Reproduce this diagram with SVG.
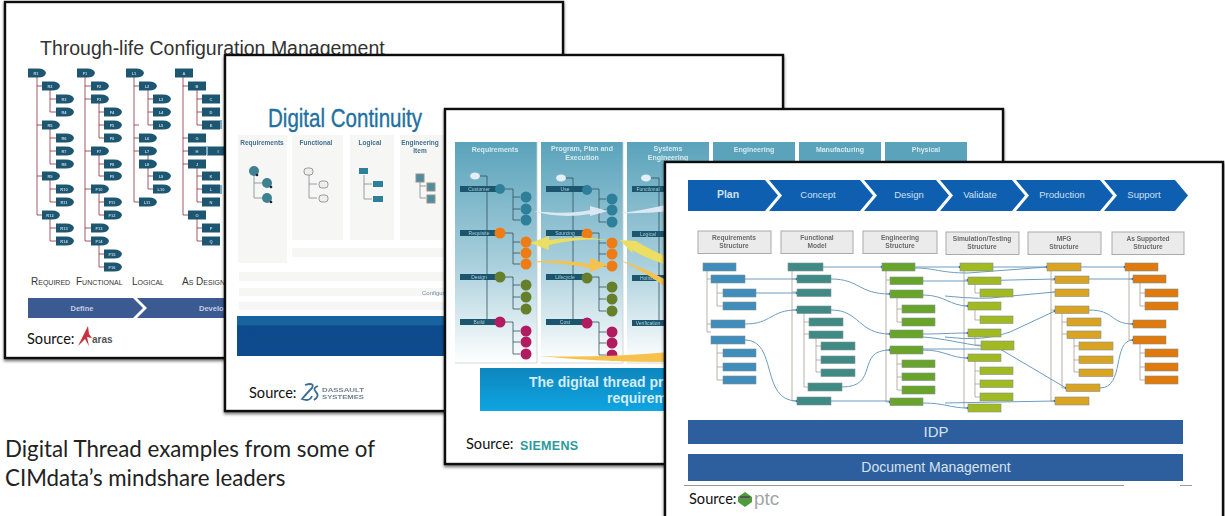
<svg xmlns="http://www.w3.org/2000/svg" xmlns:xlink="http://www.w3.org/1999/xlink" width="1225" height="516" viewBox="0 0 1225 516">
<style>
text{font-family:"Liberation Sans",Arial,sans-serif}
.card{fill:#fff;stroke:#111;stroke-width:2.4}
.src{font-family:Lato,"Open Sans",sans-serif;font-size:14.6px;fill:#111}
.cap{font-family:Lato,"Open Sans",sans-serif;font-size:22.300px;fill:#222}
.n1{fill:#1f5670}
.t1{font-size:4px;font-weight:bold;fill:#b9d2de;text-anchor:middle}
.tr{fill:none;stroke:#8a2f42;stroke-width:.8}
.sc{font-size:10px;font-variant:small-caps;fill:#333}
.bar{fill:#3c5a92}
.bt{font-size:7.5px;font-weight:bold;fill:#c3cfe2;text-anchor:middle}
.p2{fill:#f6f6f5}
.h2{font-size:6.5px;font-weight:bold;fill:#44708f;text-anchor:middle}
.tr2{fill:none;stroke:#7d8a8f;stroke-width:.8}
.hp{fill:#5aa3bb}
.ht{font-size:7px;font-weight:bold;fill:#d6eaf0;text-anchor:middle}
.tr3{fill:none;stroke:#33505e;stroke-width:.8}
.lb{fill:#1b566e}
.lt{font-size:5px;fill:#a9ccd8;text-anchor:middle}
.ct{fill:#2f7f99}.co{fill:#ee7c12}.cg{fill:#667f2c}.cm{fill:#b01d5f}
.chev{fill:#0e5fb0}
.cht{font-size:9.5px;fill:#cfe0f0;text-anchor:middle}
.sb{fill:#ebebeb;stroke:#a9a9a9;stroke-width:1}
.st{font-size:6.6px;font-weight:bold;fill:#6a6a6a;text-anchor:middle}
.a{fill:#3f8cba}.b{fill:#3f8a86}.c{fill:#69a42a}.d{fill:#a2ba22}.e{fill:#dba321}.f{fill:#e07a0a}
.a,.b,.c,.d,.e,.f{stroke:#7f8f8f;stroke-width:.6}
.tr4{fill:none;stroke:#9b9486;stroke-width:.7}
.fl{fill:none;stroke:#6d9cbf;stroke-width:1}
.big{fill:#2d5f9e}
.bigt{fill:#d5e2f0;text-anchor:middle}
</style>
<defs>
<filter id="soft" x="-5%" y="-5%" width="110%" height="110%"><feGaussianBlur stdDeviation="0.45"/></filter>
<filter id="shadow" x="-3%" y="-3%" width="106%" height="106%"><feDropShadow dx="0" dy="2" stdDeviation="1.6" flood-color="#000" flood-opacity=".55"/></filter>
<path id="dn" d="M0-4.5H10Q17-4.500 18 0Q17 4.500 10 4.500H0Z"/>
<rect id="rn" x="0" y="-4.500" width="18" height="9"/>
<circle id="dot" r="1.300" fill="#1f66b5"/>
<linearGradient id="pg" x1="0" y1="0" x2="0" y2="1"><stop offset="0" stop-color="#5aa3bb"/><stop offset=".55" stop-color="#a9cfdc"/><stop offset="1" stop-color="#fff"/></linearGradient>
<linearGradient id="bg3" x1="0" y1="0" x2="0" y2="1"><stop offset="0" stop-color="#0e86bd"/><stop offset="1" stop-color="#0ea5e2"/></linearGradient>
<linearGradient id="bg2" x1="0" y1="0" x2="0" y2="1"><stop offset="0" stop-color="#15639f"/><stop offset=".22" stop-color="#15639f"/><stop offset=".25" stop-color="#0b4a8c"/><stop offset="1" stop-color="#0c4c8e"/></linearGradient>
</defs>

<g id="card-aras">
<rect class="card" x="5" y="2" width="558" height="356" filter="url(#shadow)"/>
<text x="40" y="55" font-size="19.500" fill="#333">Through-life Configuration Management</text>
<g id="aras-tree" filter="url(#soft)">
<path class="tr" d="M37 77V215M37 86H42M37 125H42M37 176H42M37 215H42M50 90V112M50 99H56M50 112H56M50 129V164M50 138H56M50 151H56M50 164H56M50 180V202M50 189H56M50 202H56M50 219V241M50 228H56M50 241H56"/>
<path class="tr" d="M85 77V241M85 86H91M85 99H91M85 151H91M85 189H91M85 228H91M85 241H91M99 103V138M99 112H104M99 125H104M99 138H104M99 155V176M99 164H104M99 176H104M99 193V215M99 202H104M99 215H104M99 245V267M99 254H104M99 267H104"/>
<path class="tr" d="M134 77V202M134 86H139M134 125H139M134 138H139M134 151H139M134 202H139M148 90V125M148 99H153M148 112H153M148 125H153M148 155V189M148 176H153M148 189H153"/>
<path class="tr" d="M183 77V215M183 86H188M183 138H188M183 151H188M183 164H188M183 215H188M197 90V125M197 99H202M197 112H202M197 125H202M197 168V202M197 176H202M197 189H202M197 202H202M197 219V241M197 228H202M197 241H202"/>
<g class="n1">
<use href="#dn" x="28" y="73"/><use href="#dn" x="42" y="86"/><use href="#dn" x="56" y="99"/><use href="#dn" x="56" y="112"/><use href="#dn" x="42" y="125"/><use href="#dn" x="56" y="138"/><use href="#dn" x="56" y="151"/><use href="#dn" x="56" y="164"/><use href="#dn" x="42" y="176"/><use href="#dn" x="56" y="189"/><use href="#dn" x="56" y="202"/><use href="#dn" x="42" y="215"/><use href="#dn" x="56" y="228"/><use href="#dn" x="56" y="241"/>
<use href="#dn" x="77" y="73"/><use href="#dn" x="91" y="86"/><use href="#dn" x="91" y="99"/><use href="#dn" x="104" y="112"/><use href="#dn" x="104" y="125"/><use href="#dn" x="104" y="138"/><use href="#dn" x="91" y="151"/><use href="#dn" x="104" y="164"/><use href="#dn" x="104" y="176"/><use href="#dn" x="91" y="189"/><use href="#dn" x="104" y="202"/><use href="#dn" x="104" y="215"/><use href="#dn" x="91" y="228"/><use href="#dn" x="91" y="241"/><use href="#dn" x="104" y="254"/><use href="#dn" x="104" y="267"/>
<use href="#dn" x="126" y="73"/><use href="#dn" x="139" y="86"/><use href="#dn" x="153" y="99"/><use href="#dn" x="153" y="112"/><use href="#dn" x="153" y="125"/><use href="#dn" x="139" y="138"/><use href="#dn" x="139" y="151"/><use href="#dn" x="139" y="164"/><use href="#dn" x="153" y="176"/><use href="#dn" x="153" y="189"/><use href="#dn" x="139" y="202"/>
<use href="#rn" x="175" y="73"/><use href="#rn" x="188" y="86"/><use href="#rn" x="202" y="99"/><use href="#rn" x="202" y="112"/><use href="#rn" x="202" y="125"/><use href="#rn" x="188" y="138"/><use href="#rn" x="188" y="151"/><use href="#rn" x="207" y="151"/><use href="#rn" x="188" y="164"/><use href="#rn" x="202" y="176"/><use href="#rn" x="202" y="189"/><use href="#rn" x="202" y="202"/><use href="#rn" x="188" y="215"/><use href="#rn" x="202" y="228"/><use href="#rn" x="202" y="241"/>
</g>
<g class="t1">
<text x="36" y="74.500">R1</text><text x="50" y="87.500">R2</text><text x="64" y="100.500">R3</text><text x="64" y="113.500">R4</text><text x="50" y="126.500">R5</text><text x="64" y="139.500">R6</text><text x="64" y="152.500">R7</text><text x="64" y="165.500">R8</text><text x="50" y="177.500">R9</text><text x="64" y="190.500">R10</text><text x="64" y="203.500">R11</text><text x="50" y="216.500">R12</text><text x="64" y="229.500">R13</text><text x="64" y="242.500">R14</text>
<text x="85" y="74.500">F1</text><text x="99" y="87.500">F2</text><text x="99" y="100.500">F3</text><text x="112" y="113.500">F4</text><text x="112" y="126.500">F5</text><text x="112" y="139.500">F6</text><text x="99" y="152.500">F7</text><text x="112" y="165.500">F8</text><text x="112" y="177.500">F9</text><text x="99" y="190.500">F10</text><text x="112" y="203.500">F11</text><text x="112" y="216.500">F12</text><text x="99" y="229.500">F13</text><text x="99" y="242.500">F14</text><text x="112" y="255.500">F15</text><text x="112" y="268.500">F16</text>
<text x="134" y="74.500">L1</text><text x="147" y="87.500">L2</text><text x="161" y="100.500">L3</text><text x="161" y="113.500">L4</text><text x="161" y="126.500">L5</text><text x="147" y="139.500">L6</text><text x="147" y="152.500">L7</text><text x="147" y="165.500">L8</text><text x="161" y="177.500">L9</text><text x="161" y="190.500">L10</text><text x="147" y="203.500">L11</text>
<text x="184" y="74.500">A</text><text x="197" y="87.500">B</text><text x="211" y="100.500">C</text><text x="211" y="113.500">D</text><text x="211" y="126.500">E</text><text x="197" y="139.500">G</text><text x="197" y="152.500">H</text><text x="218" y="152.500">I</text><text x="197" y="165.500">J</text><text x="211" y="177.500">K</text><text x="211" y="190.500">L</text><text x="211" y="203.500">N</text><text x="197" y="216.500">O</text><text x="211" y="229.500">P</text><text x="211" y="242.500">Q</text>
</g>
<path fill="#7fb0c8" d="M220 120h2v9h-2zM220 185h2v9h-2zM206 146h2v9h-2z"/>
</g>
<text class="sc" x="31" y="285">Required</text>
<text class="sc" x="76" y="285">Functional</text>
<text class="sc" x="132" y="285">Logical</text>
<text class="sc" x="182" y="285">As Designed</text>
<polygon class="bar" points="28,298 133,298 143,308 133,318 28,318"/>
<polygon class="bar" points="137,298 300,298 300,318 137,318 147,308"/>
<text class="bt" x="82" y="311">Define</text>
<text class="bt" x="199" y="311" style="text-anchor:start">Develop</text>
<text class="src" x="27" y="344">Source:</text>
<path fill="#c8323c" d="M78 346L88 326L89 334L92 338L87 337L89 346L85 339Z"/>
<text x="92" y="343" font-size="10" font-weight="bold" fill="#555">aras</text>
</g>

<g id="card-dassault">
<rect class="card" x="225" y="55" width="558" height="356" filter="url(#shadow)"/>
<g id="dassault-panels" filter="url(#soft)">
<rect class="p2" x="238" y="135" width="49" height="128"/>
<rect class="p2" x="292" y="135" width="51" height="105"/>
<rect class="p2" x="350" y="135" width="44" height="105"/>
<rect class="p2" x="400" y="135" width="100" height="105"/>
<rect class="p2" x="292" y="248" width="300" height="9"/>
<rect class="p2" x="239" y="272" width="300" height="9"/>
<rect class="p2" x="239" y="288" width="300" height="8"/>
<rect class="p2" x="239" y="302" width="300" height="8"/>
<text class="h2" x="262" y="145">Requirements</text>
<text class="h2" x="316" y="145">Functional</text>
<text class="h2" x="370" y="145">Logical</text>
<text class="h2" x="420" y="145">Engineering</text>
<text class="h2" x="420" y="153">Item</text>
<text x="422" y="295" font-size="6" fill="#6f8da3">Configuration</text>
<path class="tr2" d="M254 175V198H262M254 183H262M309 175V198H317M309 184H317M364 175V199H372M364 184H372M420 180V198H426M420 186H426"/>
<g fill="#3f8191"><circle cx="254" cy="171" r="5"/><circle cx="267" cy="183" r="5"/><circle cx="267" cy="198" r="5"/></g>
<g fill="#223"><circle cx="257" cy="175" r="1.300"/><circle cx="271" cy="187" r="1.300"/><circle cx="271" cy="202" r="1.300"/></g>
<g fill="#eee" stroke="#777" stroke-width=".7"><rect x="304" y="168" width="9" height="7" rx="3"/><rect x="319" y="181" width="9" height="7" rx="3"/><rect x="319" y="195" width="9" height="7" rx="3"/></g>
<g fill="#2f7f9c"><rect x="359" y="168" width="9" height="6"/><rect x="373" y="181" width="10" height="6"/><rect x="373" y="196" width="10" height="6"/></g>
<g fill="#4d8ea0" stroke="#a08e80" stroke-width="1"><rect x="416" y="174" width="8" height="8"/><rect x="427" y="183" width="8" height="8"/><rect x="427" y="195" width="8" height="8"/></g>
<rect x="237" y="316" width="300" height="40" fill="url(#bg2)"/>
</g>
<text x="268" y="127" font-size="25" fill="#22709f" stroke="#22709f" stroke-width=".35" textLength="154" lengthAdjust="spacingAndGlyphs">Digital Continuity</text>
<text class="src" x="249" y="398">Source:</text>
<path fill="none" stroke="#3a6b95" stroke-width="1.800" d="M305 385Q315 382 312 388Q308 392 302 399Q310 402 312 396M318 386Q312 388 316 392Q320 396 314 400"/>
<g filter="url(#soft)" font-size="6" font-weight="bold" fill="#6f8190"><text x="322" y="392" textLength="42" lengthAdjust="spacingAndGlyphs">DASSAULT</text><text x="322" y="399" textLength="42" lengthAdjust="spacingAndGlyphs">SYSTEMES</text></g>
</g>

<g id="card-siemens">
<rect class="card" x="445" y="109" width="558" height="355" filter="url(#shadow)"/>
<g id="siemens-panels" filter="url(#soft)">
<rect x="455" y="142" width="82" height="221" fill="url(#pg)"/>
<rect x="541" y="142" width="82" height="221" fill="url(#pg)"/>
<rect x="627" y="142" width="82" height="221" fill="url(#pg)"/>
<rect class="hp" x="713" y="142" width="82" height="22"/>
<rect class="hp" x="799" y="142" width="82" height="22"/>
<rect class="hp" x="885" y="142" width="82" height="22"/>
<path d="M455 363H537V142M541 363H623V142M627 363H709" fill="none" stroke="#c9cfd2" stroke-width=".8"/>
<text class="ht" x="495" y="152">Requirements</text>
<text class="ht" x="582" y="151">Program, Plan and</text>
<text class="ht" x="582" y="160">Execution</text>
<text class="ht" x="668" y="151">Systems</text>
<text class="ht" x="668" y="160">Engineering</text>
<text class="ht" x="754" y="152">Engineering</text>
<text class="ht" x="840" y="152">Manufacturing</text>
<text class="ht" x="926" y="152">Physical</text>
<path class="tr3" d="M478 176H487V322M505 189H513V220H520M513 197H520M513 209H520M505 233H513V264H520M513 242H520M513 253H520M505 277H513V309H520M513 285H520M513 297H520M505 322H513V354H520M513 331H520M513 342H520"/>
<path class="tr3" d="M564 178H573V322M591 189H599V222H606M599 199H606M599 210H606M591 233H599V266H606M599 243H606M599 254H606M591 277H599V311H606M599 287H606M599 299H606M591 322H599V355H606M599 332H606M599 343H606"/>
<path class="tr3" d="M649 178H659V323"/>
<ellipse cx="475" cy="176" rx="5" ry="3.500" fill="#e4eef7"/><ellipse cx="561" cy="178" rx="5" ry="3.500" fill="#e4eef7"/><ellipse cx="646" cy="178" rx="5" ry="3.500" fill="#e4eef7"/>
<g class="lb"><rect x="460" y="186" width="42" height="6"/><rect x="460" y="230" width="42" height="6"/><rect x="460" y="274" width="42" height="6"/><rect x="460" y="319" width="42" height="6"/><rect x="546" y="186" width="42" height="6"/><rect x="546" y="230" width="42" height="6"/><rect x="546" y="274" width="42" height="6"/><rect x="546" y="319" width="42" height="6"/><rect x="632" y="186" width="33" height="6"/><rect x="632" y="231" width="33" height="6"/><rect x="632" y="275" width="33" height="6"/><rect x="632" y="320" width="33" height="6"/></g>
<text class="lt" x="479" y="191">Customer</text><text class="lt" x="479" y="235">Requisite</text><text class="lt" x="479" y="279">Design</text><text class="lt" x="479" y="324">Build</text>
<text class="lt" x="565" y="191">Use</text><text class="lt" x="565" y="235">Sourcing</text><text class="lt" x="565" y="279">Lifecycle</text><text class="lt" x="565" y="324">Cost</text>
<text class="lt" x="648" y="191">Functional</text><text class="lt" x="648" y="236">Logical</text><text class="lt" x="648" y="280">Holistic</text><text class="lt" x="648" y="325">Verification</text>
<g class="ct"><circle cx="500" cy="189" r="5"/><circle cx="587" cy="190" r="5"/><circle cx="526" cy="197" r="5.500"/><circle cx="526" cy="209" r="5.500"/><circle cx="526" cy="220" r="5.500"/><circle cx="612" cy="199" r="5.500"/><circle cx="612" cy="210" r="5.500"/><circle cx="612" cy="222" r="5.500"/></g>
<g class="co"><circle cx="500" cy="233" r="5.500"/><circle cx="587" cy="234" r="5.500"/><circle cx="526" cy="242" r="5.500"/><circle cx="526" cy="253" r="5.500"/><circle cx="526" cy="264" r="5.500"/><circle cx="612" cy="243" r="5.500"/><circle cx="612" cy="254" r="5.500"/><circle cx="612" cy="266" r="5.500"/></g>
<g class="cg"><circle cx="500" cy="277" r="5.500"/><circle cx="587" cy="278" r="5.500"/><circle cx="526" cy="285" r="5.500"/><circle cx="526" cy="297" r="5.500"/><circle cx="526" cy="309" r="5.500"/><circle cx="612" cy="287" r="5.500"/><circle cx="612" cy="299" r="5.500"/><circle cx="612" cy="311" r="5.500"/></g>
<g class="cm"><circle cx="500" cy="322" r="5.500"/><circle cx="587" cy="323" r="5.500"/><circle cx="526" cy="331" r="5.500"/><circle cx="526" cy="342" r="5.500"/><circle cx="526" cy="354" r="5.500"/><circle cx="612" cy="332" r="5.500"/><circle cx="612" cy="343" r="5.500"/><circle cx="612" cy="355" r="5.500"/></g>
</g>
<g id="siemens-connectors" filter="url(#soft)">
<path fill="#dbe8f4" d="M533 211Q570 215 590 210V206L608 211L590 216V214Q560 219 533 211Z"/>
<path fill="#dbe8f4" d="M620 213Q640 211 670 204V211Q640 214 620 213Z"/>
<path fill="#ecde62" d="M620 240L636 241Q650 250 670 258V266Q645 258 632 250L633 254Z"/>
<path fill="#ecde62" d="M530 243L549 236V240Q580 235 608 240Q580 238 549 245V250Z"/>
<path fill="#f6c24e" d="M530 262Q560 258 590 264V258L608 265L590 272V268Q560 262 530 262Z"/>
<path fill="#f6c24e" d="M620 260Q645 268 670 282V290Q645 272 620 260Z"/>
<path fill="#f6c24e" d="M538 356Q600 358 670 352V362Q600 362 538 356Z"/>
</g>
<rect x="480" y="368" width="300" height="43" fill="url(#bg3)"/>
<text x="529" y="387" font-size="14" font-weight="bold" fill="#d5ecf7">The digital thread pr</text>
<text x="607" y="403" font-size="14" font-weight="bold" fill="#d5ecf7">requirem</text>
<text class="src" x="466" y="449">Source:</text>
<text x="520" y="450" font-size="12.500" font-weight="bold" fill="#2a9a9c" letter-spacing=".3">SIEMENS</text>
</g>

<g id="card-ptc">
<rect class="card" x="665" y="162" width="558" height="360" filter="url(#shadow)"/>
<g id="ptc-chevrons">
<polygon class="chev" points="688,180 765,180 778,195.500 765,211 688,211"/>
<polygon class="chev" points="769,180 860,180 873,195.500 860,211 769,211 782,195.500"/>
<polygon class="chev" points="864,180 936,180 949,195.500 936,211 864,211 877,195.500"/>
<polygon class="chev" points="940,180 1012,180 1025,195.500 1012,211 940,211 953,195.500"/>
<polygon class="chev" points="1016,180 1100,180 1113,195.500 1100,211 1016,211 1029,195.500"/>
<polygon class="chev" points="1104,180 1175,180 1188,195.500 1175,211 1104,211 1117,195.500"/>
<text class="cht" x="728" y="198" font-weight="bold" style="font-size:10.500px">Plan</text>
<text class="cht" x="818" y="198">Concept</text>
<text class="cht" x="909" y="198">Design</text>
<text class="cht" x="980" y="198">Validate</text>
<text class="cht" x="1062" y="198">Production</text>
<text class="cht" x="1144" y="198">Support</text>
</g>
<g id="ptc-structures" filter="url(#soft)">
<rect class="sb" x="698" y="231" width="73" height="22.500"/><rect class="sb" x="781" y="231" width="72" height="22.500"/><rect class="sb" x="863" y="231" width="74" height="22.500"/><rect class="sb" x="946" y="232" width="73" height="22.500"/><rect class="sb" x="1028" y="232" width="73" height="22.500"/><rect class="sb" x="1112" y="232" width="72" height="22.500"/>
<text class="st" x="734" y="240">Requirements</text><text class="st" x="734" y="248">Structure</text>
<text class="st" x="817" y="240">Functional</text><text class="st" x="817" y="248">Model</text>
<text class="st" x="900" y="240">Engineering</text><text class="st" x="900" y="248">Structure</text>
<text class="st" x="982" y="241">Simulation/Testing</text><text class="st" x="982" y="249">Structure</text>
<text class="st" x="1064" y="241">MFG</text><text class="st" x="1064" y="249">Structure</text>
<text class="st" x="1148" y="241">As Supported</text><text class="st" x="1148" y="249">Structure</text>
</g>
<g id="ptc-connectors" filter="url(#soft)">
<path class="tr4" d="M707 271V332M707 279H711M707 324H711M707 332H711M717 283V306M717 293H723M717 306H723M717 344V380M717 353H723M717 367H723M717 380H723"/>
<path class="tr4" d="M792 271V401M792 279H797M792 292H797M792 310H797M792 401H797M804 313V387M804 322H809M804 334H809M804 387H808M816 338V372M816 346H821M816 360H821M816 372H821"/>
<path class="tr4" d="M886 271V402M886 280H890M886 294H890M886 334H890M886 350H890M886 402H890M897 298V322M897 309H902M897 322H902M897 354V390M897 364H902M897 377H902M897 390H902"/>
<path class="tr4" d="M964 271V408M964 280H968M964 306H968M964 333H968M964 358H968M964 408H968M975 284V293H980M975 310V320H980M975 337V345H981M975 361V397M975 371H980M975 384H980M975 397H980"/>
<path class="tr4" d="M1051 271V401M1051 280H1055M1051 292H1055M1051 310H1055M1051 401H1055M1062 313V388M1062 322H1067M1062 334H1067M1062 388H1066M1074 338V372M1074 346H1079M1074 360H1079M1074 372H1079"/>
<path class="tr4" d="M1129 271V340M1129 279H1133M1129 324H1133M1129 340H1133M1140 283V306M1140 293H1145M1140 306H1145M1140 344V380M1140 353H1145M1140 367H1145M1140 380H1145"/>
<path class="fl" d="M745 279H797M756 293H797M745 324C772 324 770 310 797 310M745 340C778 340 760 401 797 401M823 267H882M831 279C860 279 858 294 890 294M831 310C860 310 858 334 890 334M842 387C880 387 855 350 890 350M831 401H890"/>
<path class="fl" d="M915 267H960M915 268C935 268 940 273 968 273L1047 267M923 281H968L1055 279M923 295C945 295 950 306 968 306M945 296Q985 300 1000 297L1055 292M923 334C945 334 950 333 968 333M923 337C940 338 965 344 981 346M945 337Q985 342 1010 332L1055 311M923 350C945 350 950 358 968 358M923 349H1000L1066 388M923 403C945 403 950 408 968 408M945 403L1055 401"/>
<path class="fl" d="M993 267H1047M1081 267H1125M1089 279H1133M1089 310C1115 310 1110 324 1133 324M1100 388C1125 388 1112 340 1133 340"/>
<use href="#dot" x="797" y="279"/><use href="#dot" x="797" y="293"/><use href="#dot" x="797" y="310"/><use href="#dot" x="797" y="401"/><use href="#dot" x="882" y="267"/><use href="#dot" x="890" y="294"/><use href="#dot" x="890" y="334"/><use href="#dot" x="890" y="350"/><use href="#dot" x="890" y="402"/><use href="#dot" x="960" y="267"/><use href="#dot" x="968" y="280"/><use href="#dot" x="968" y="306"/><use href="#dot" x="968" y="333"/><use href="#dot" x="968" y="358"/><use href="#dot" x="968" y="408"/><use href="#dot" x="1047" y="267"/><use href="#dot" x="1055" y="279"/><use href="#dot" x="1055" y="311"/><use href="#dot" x="1055" y="401"/><use href="#dot" x="1066" y="388"/><use href="#dot" x="1125" y="267"/><use href="#dot" x="1133" y="279"/><use href="#dot" x="1133" y="324"/><use href="#dot" x="1133" y="340"/>
</g>
<g id="ptc-nodes" filter="url(#soft)">
<g class="a"><rect x="703" y="263" width="33" height="8"/><rect x="711" y="275" width="34" height="8"/><rect x="723" y="289" width="33" height="8"/><rect x="723" y="302" width="33" height="8"/><rect x="711" y="320" width="34" height="8"/><rect x="711" y="336" width="34" height="8"/><rect x="723" y="349" width="33" height="8"/><rect x="723" y="363" width="33" height="8"/><rect x="723" y="376" width="33" height="8"/></g>
<g class="b"><rect x="788" y="263" width="35" height="8"/><rect x="797" y="275" width="34" height="8"/><rect x="797" y="289" width="34" height="7.500"/><rect x="797" y="306" width="34" height="7.500"/><rect x="809" y="318" width="34" height="8"/><rect x="809" y="331" width="34" height="7.500"/><rect x="821" y="342" width="34" height="8"/><rect x="821" y="356" width="34" height="7.500"/><rect x="821" y="369" width="34" height="7.500"/><rect x="808" y="383" width="34" height="8"/><rect x="797" y="397" width="34" height="8"/></g>
<g class="c"><rect x="882" y="263" width="33" height="8"/><rect x="890" y="277" width="33" height="7.500"/><rect x="890" y="290" width="33" height="8"/><rect x="902" y="305" width="33" height="8"/><rect x="902" y="318" width="33" height="8"/><rect x="890" y="330" width="33" height="8"/><rect x="890" y="346" width="33" height="8"/><rect x="902" y="360" width="33" height="7.500"/><rect x="902" y="373" width="33" height="7.500"/><rect x="902" y="386" width="33" height="8"/><rect x="890" y="398" width="33" height="7.500"/></g>
<g class="d"><rect x="960" y="263" width="33" height="8"/><rect x="968" y="277" width="33" height="7.500"/><rect x="980" y="289" width="33" height="8"/><rect x="968" y="302" width="33" height="8"/><rect x="980" y="316" width="33" height="7.500"/><rect x="968" y="329" width="33" height="8"/><rect x="981" y="341" width="33" height="9"/><rect x="968" y="354" width="33" height="7.500"/><rect x="980" y="367" width="33" height="7.500"/><rect x="980" y="380" width="33" height="7.500"/><rect x="980" y="393" width="33" height="8"/><rect x="968" y="404" width="33" height="8"/></g>
<g class="e"><rect x="1047" y="263" width="34" height="8"/><rect x="1055" y="276" width="34" height="7.500"/><rect x="1055" y="289" width="34" height="7.500"/><rect x="1055" y="306" width="34" height="7.500"/><rect x="1067" y="318" width="34" height="8"/><rect x="1067" y="331" width="34" height="7.500"/><rect x="1079" y="342" width="34" height="8"/><rect x="1079" y="356" width="34" height="7.500"/><rect x="1079" y="369" width="34" height="7.500"/><rect x="1066" y="384" width="34" height="7.500"/><rect x="1055" y="397" width="34" height="8"/></g>
<g class="f"><rect x="1125" y="263" width="33" height="8"/><rect x="1133" y="275" width="33" height="8"/><rect x="1145" y="289" width="33" height="8"/><rect x="1145" y="302" width="33" height="8"/><rect x="1133" y="320" width="33" height="8"/><rect x="1133" y="336" width="33" height="8"/><rect x="1145" y="349" width="33" height="8"/><rect x="1145" y="363" width="33" height="8"/><rect x="1145" y="376" width="33" height="8"/></g>
</g>
<rect class="big" x="688" y="420" width="495" height="24"/>
<rect class="big" x="688" y="454" width="495" height="27"/>
<text class="bigt" x="936" y="437" font-size="15">IDP</text>
<text class="bigt" x="936" y="472" font-size="14">Document Management</text>
<path d="M684 485.500H1124M1180 485.500H1192" stroke="#999" stroke-width="1"/>
<text class="src" x="689" y="504">Source:</text>
<path fill="#4f9a3c" d="M738 497L745 492L752 497V502L745 507L738 502Z"/>
<path fill="#555" d="M740 496H750V498H740Z"/>
<text x="754" y="505" font-size="19" fill="#a5a5a5">ptc</text>
</g>

<g id="caption">
<text class="cap" x="5" y="457">Digital Thread examples from some of</text>
<text class="cap" x="5" y="486">CIMdata’s mindshare leaders</text>
</g>
</svg>
